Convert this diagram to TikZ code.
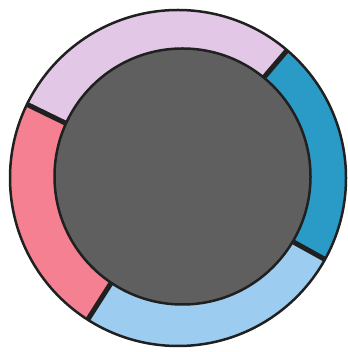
\documentclass[tikz,border=0pt]{standalone}
\usepackage{tikz}
\usetikzlibrary{calc}
\definecolor{ringlilac}{RGB}{226,200,230}
\definecolor{ringteal}{RGB}{42,155,198}
\definecolor{ringsky}{RGB}{156,204,240}
\definecolor{ringpink}{RGB}{244,128,145}
\definecolor{coregray}{RGB}{95,95,95}
\definecolor{edgeink}{RGB}{32,32,32}

\begin{document}
\begin{tikzpicture}[x=1pt,y=1pt,
  rim/.style={line width=2.5pt,draw=edgeink},
  divider/.style={line width=5pt,edgeink}]
\useasboundingbox (0,0) rectangle (347,352);
\coordinate (ringc) at (178,174);
\coordinate (corec) at (182.5,175.5);
% ring segments
\fill[ringlilac] (ringc) -- ++(49.5:168) arc[start angle=49.5,end angle=154,radius=168] -- cycle;
\fill[ringpink] (ringc) -- ++(154:168) arc[start angle=154,end angle=237.5,radius=168] -- cycle;
\fill[ringsky] (ringc) -- ++(237.5:168) arc[start angle=237.5,end angle=331,radius=168] -- cycle;
\fill[ringteal] (ringc) -- ++(-29:168) arc[start angle=-29,end angle=49.5,radius=168] -- cycle;
\draw[rim] (ringc) circle[radius=168];
% dividers
\foreach \ang in {49.5,154,237.5,331}
  \draw[divider] ($(ringc)+(\ang:110)$) -- ($(ringc)+(\ang:168)$);
% core
\draw[rim,fill=coregray] (corec) circle[radius=128];
\end{tikzpicture}
\end{document}
